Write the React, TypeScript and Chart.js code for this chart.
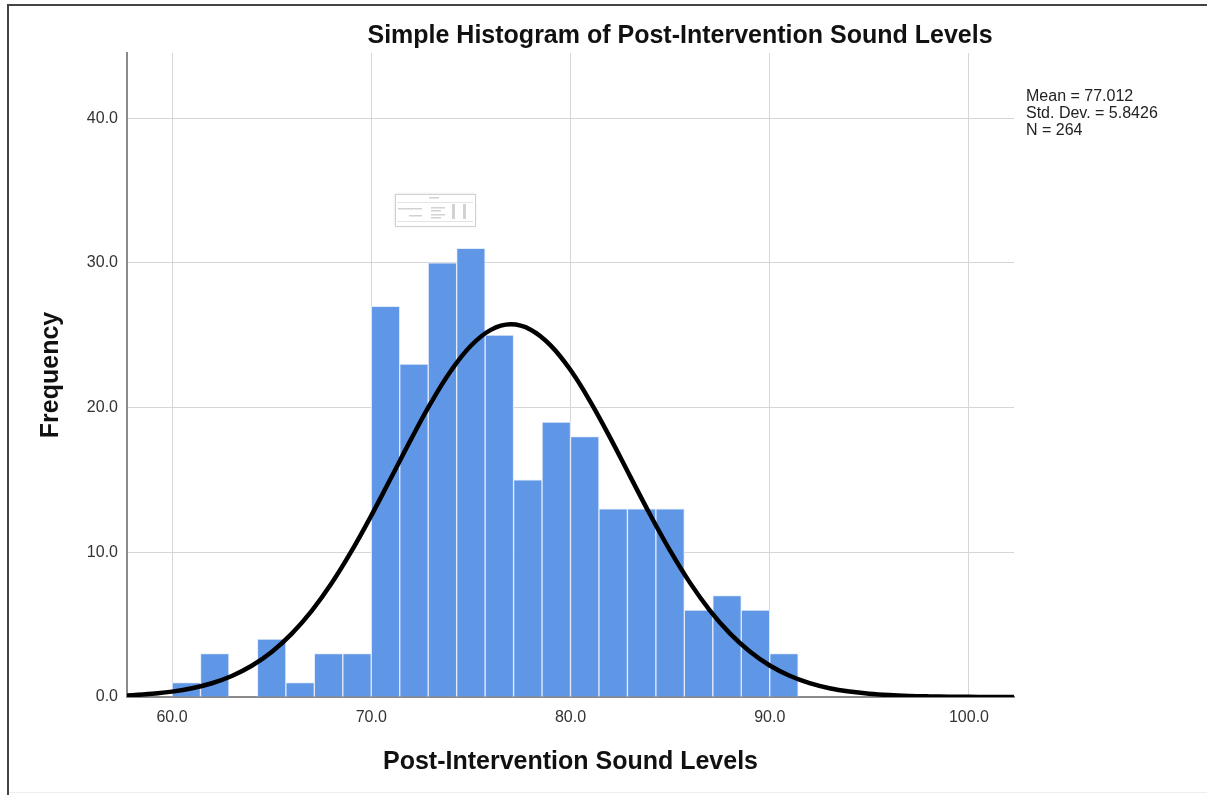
import React, { useEffect, useRef } from "react";
import { Chart, registerables } from "chart.js";

Chart.register(...registerables);

// Histogram bins (start 60.0, width 10/7)
const BIN_START = 60;
const BIN_WIDTH = 10 / 7;
const binCounts = [1, 3, 0, 4, 1, 3, 3, 27, 23, 30, 31, 25, 15, 19, 18, 13, 13, 13, 6, 7, 6, 3];

// Normal curve
const curveX = [57, 58, 59, 60, 61, 62, 63, 64, 65, 66, 67, 68, 69, 70, 71, 72, 73, 74, 75, 76, 77, 78, 79, 80, 81, 82, 83, 84, 85, 86, 87, 88, 89, 90, 91, 92, 93, 94, 95, 96, 97, 98, 99, 100, 101, 102, 103];
const curveY = [0.073, 0.129, 0.222, 0.371, 0.602, 0.949, 1.452, 2.156, 3.111, 4.359, 5.931, 7.837, 10.056, 12.532, 15.165, 17.822, 20.341, 22.545, 24.268, 25.367, 25.75, 25.384, 24.302, 22.594, 20.398, 17.886, 15.23, 12.593, 10.113, 7.886, 5.973, 4.393, 3.138, 2.176, 1.466, 0.959, 0.609, 0.376, 0.225, 0.131, 0.074, 0.041, 0.021, 0.011, 0.0056, 0.0027, 0.0012];

const xTicks = [60, 70, 80, 90, 100];
const yTicks = [0, 10, 20, 30, 40];

const TITLE = "Simple Histogram of Post-Intervention Sound Levels";
const X_TITLE = "Post-Intervention Sound Levels";
const Y_TITLE = "Frequency";
const statsLines = ["Mean = 77.012", "Std. Dev. = 5.8426", "N = 264"];

const FONT = "'Liberation Sans', Arial, sans-serif";

const decorPlugin = {
  id: "decor",
  beforeDraw(chart: any) {
    const ctx = chart.ctx;
    ctx.save();
    ctx.fillStyle = "#ffffff";
    ctx.fillRect(0, 0, chart.width, chart.height);
    // frame
    ctx.strokeStyle = "#444444";
    ctx.lineWidth = 2;
    ctx.beginPath();
    ctx.moveTo(8, 795);
    ctx.lineTo(8, 5);
    ctx.lineTo(1207, 5);
    ctx.stroke();
    ctx.strokeStyle = "#eeeeee";
    ctx.lineWidth = 1;
    ctx.beginPath();
    ctx.moveTo(9, 792.5);
    ctx.lineTo(1207, 792.5);
    ctx.stroke();
    ctx.restore();
  },
  afterDraw(chart: any) {
    const ctx = chart.ctx;
    const area = chart.chartArea;
    ctx.save();
    ctx.fillStyle = "#111111";
    ctx.textBaseline = "middle";
    // title
    ctx.font = `bold 25px ${FONT}`;
    ctx.textAlign = "center";
    ctx.fillText(TITLE, 680, 36);
    // x title
    ctx.fillText(X_TITLE, (area.left + area.right) / 2, 762);
    // y title
    ctx.save();
    ctx.translate(51, (area.top + area.bottom) / 2);
    ctx.rotate(-Math.PI / 2);
    ctx.fillText(Y_TITLE, 0, 0);
    ctx.restore();
    // stats
    ctx.font = `16px ${FONT}`;
    ctx.textAlign = "left";
    ctx.fillStyle = "#222222";
    statsLines.forEach((t, i) => ctx.fillText(t, 1026, 97 + i * 16.8));
    // small embedded thumbnail
    const bx = 395, by = 194, bw = 80, bh = 32;
    ctx.shadowColor = "rgba(0,0,0,0.12)";
    ctx.shadowBlur = 3;
    ctx.fillStyle = "#ffffff";
    ctx.fillRect(bx, by, bw, bh);
    ctx.shadowBlur = 0;
    ctx.strokeStyle = "#d0d0d0";
    ctx.lineWidth = 1;
    ctx.strokeRect(bx + 0.5, by + 0.5, bw, bh);
    ctx.strokeStyle = "#e4e4e4";
    ctx.beginPath();
    ctx.moveTo(bx + 2, by + 8.5); ctx.lineTo(bx + bw - 2, by + 8.5);
    ctx.moveTo(bx + 2, by + 27.5); ctx.lineTo(bx + bw - 2, by + 27.5);
    ctx.stroke();
    ctx.fillStyle = "#d2d2d2";
    ctx.fillRect(bx + 34, by + 3, 10, 1.5);
    ctx.fillRect(bx + 3, by + 14, 24, 1.5);
    ctx.fillRect(bx + 36, by + 13, 14, 1.5);
    ctx.fillRect(bx + 36, by + 16, 10, 1.5);
    ctx.fillRect(bx + 14, by + 21, 13, 1.5);
    ctx.fillRect(bx + 36, by + 20, 14, 1.5);
    ctx.fillRect(bx + 36, by + 23, 10, 1.5);
    ctx.fillRect(bx + 57, by + 10, 3, 15);
    ctx.fillRect(bx + 68, by + 10, 3, 15);
    ctx.restore();
  },
};

export default function App() {
  const ref = useRef<HTMLCanvasElement | null>(null);

  useEffect(() => {
    if (!ref.current) return;
    const bars = binCounts.map((c, i) => ({ x: BIN_START + (i + 0.5) * BIN_WIDTH, y: c }));
    const curve = curveX.map((x, i) => ({ x, y: curveY[i] }));
    const chart = new Chart(ref.current, {
      type: "bar",
      data: {
        datasets: [
          {
            type: "line",
            data: curve,
            borderColor: "#000000",
            borderWidth: 4.5,
            pointRadius: 0,
            tension: 0.4,
            fill: false,
            order: 0,
          } as any,
          {
            type: "bar",
            data: bars,
            backgroundColor: "#5f96e6",
            borderColor: "#e4ecf9",
            borderWidth: 1,
            barPercentage: 1,
            categoryPercentage: 1,
            order: 1,
          } as any,
        ],
      },
      options: {
        responsive: false,
        animation: false,
        events: [],
        layout: { padding: { left: 0, right: 193, top: 53, bottom: 58 } },
        plugins: { legend: { display: false }, tooltip: { enabled: false }, title: { display: false } },
        scales: {
          x: {
            type: "linear",
            min: 57.74,
            max: 102.26,
            offset: false,
            afterBuildTicks: (s: any) => { s.ticks = xTicks.map((v) => ({ value: v })); },
            afterFit: (s: any) => { s.height = 40; },
            grid: { color: "#d6d6d6", lineWidth: 1, drawTicks: false, offset: false },
            border: { color: "#8a8a8a", width: 2 },
            ticks: {
              padding: 11,
              color: "#333333",
              font: { family: FONT, size: 16 },
              callback: (v: any) => Number(v).toFixed(1),
              maxRotation: 0,
              autoSkip: false,
            },
          },
          y: {
            type: "linear",
            min: 0,
            max: 44.5,
            afterBuildTicks: (s: any) => { s.ticks = yTicks.map((v) => ({ value: v })); },
            afterFit: (s: any) => { s.width = 127; },
            grid: { color: "#d6d6d6", lineWidth: 1, drawTicks: false },
            border: { color: "#8a8a8a", width: 2 },
            ticks: {
              padding: 9,
              color: "#333333",
              font: { family: FONT, size: 16 },
              callback: (v: any) => Number(v).toFixed(1),
              autoSkip: false,
            },
          },
        },
      },
      plugins: [decorPlugin],
    });
    return () => chart.destroy();
  }, []);

  return (
    <div style={{ position: "fixed", left: 0, top: 0, width: 1207, height: 795, background: "#fff" }}>
      <canvas ref={ref} width={1207} height={795} style={{ display: "block" }} />
    </div>
  );
}
